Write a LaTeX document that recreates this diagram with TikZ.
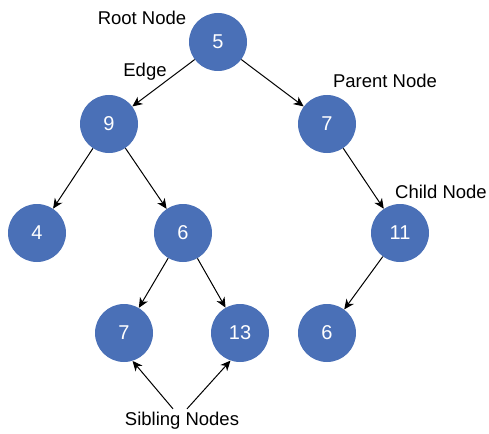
\documentclass[tikz,border=0pt]{standalone}
\usepackage{fontspec}
\setmainfont{Liberation Sans}
\usetikzlibrary{arrows.meta}
\definecolor{nodeblue}{RGB}{74,112,183}
\begin{document}
\begin{tikzpicture}[x=1pt,y=-1pt,
  treenode/.style={circle,fill=nodeblue,minimum size=58pt,inner sep=0pt,
    text=white,font=\fontsize{20}{24}\selectfont},
  lbl/.style={font=\fontsize{18.5}{22}\selectfont},
  link/.style={-{Stealth[length=10pt,width=9pt,inset=3pt]},line width=1pt}]
  \useasboundingbox (0,0) rectangle (489,433);
  % 结点
  \foreach \name/\x/\y/\val in {n5/218/42/5, n9/109/124/9, n7/327/124/7,
      n4/37/233/4, n6/183/233/6, n11/400/233/11,
      n7b/124/333/7, n13/240/333/13, n6b/327/333/6}
    \node[treenode] (\name) at (\x,\y) {\val};
  % 边
  \foreach \a/\b in {n5/n9, n5/n7, n9/n4, n9/n6, n7/n11, n6/n7b, n6/n13, n11/n6b}
    \draw[link] (\a) -- (\b);
  % 说明文字
  \node[lbl] (root) at (142,18) {Root Node};
  \node[lbl] (edge) at (145,72) {Edge};
  \node[lbl] (parent) at (385,81) {Parent Node};
  \node[lbl] (child) at (441,192) {Child Node};
  \node[lbl] (sib) at (182,421) {Sibling Nodes};
  % 兄弟结点箭头
  \draw[link] ([xshift=-9pt]sib.north) -- (n7b.287);
  \draw[link] ([xshift=5pt]sib.north) -- (n13.251);
\end{tikzpicture}
\end{document}
